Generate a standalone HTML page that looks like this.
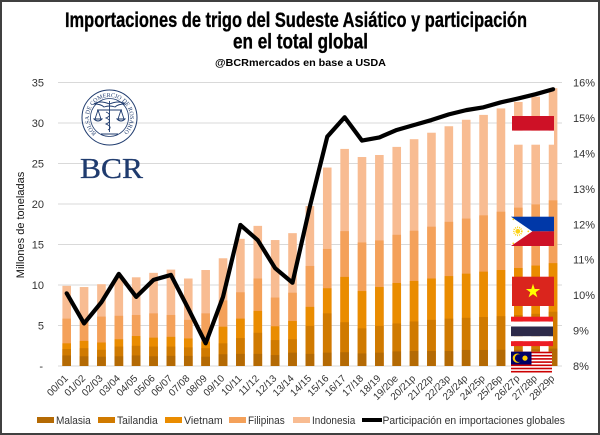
<!DOCTYPE html>
<html>
<head>
<meta charset="utf-8">
<style>
html,body{margin:0;padding:0;background:#fff;}
svg{display:block;}
text{font-family:"Liberation Sans",sans-serif;}
</style>
</head>
<body>
<svg width="600" height="435" viewBox="0 0 600 435" xmlns="http://www.w3.org/2000/svg">
<rect x="0" y="0" width="600" height="435" fill="#fff"/>

<!-- Title -->
<text x="65" y="27" font-size="21" font-weight="bold" fill="#000" stroke="#000" stroke-width="0.35" textLength="462" lengthAdjust="spacingAndGlyphs">Importaciones de trigo del Sudeste Asiático y participación</text>
<text x="233" y="48.5" font-size="21" font-weight="bold" fill="#000" stroke="#000" stroke-width="0.35" textLength="135" lengthAdjust="spacingAndGlyphs">en el total global</text>
<text x="215" y="66" font-size="10" font-weight="bold" fill="#000" textLength="171" lengthAdjust="spacingAndGlyphs">@BCRmercados  en base a USDA</text>

<!-- Gridlines -->
<g stroke="#D9D9D9" stroke-width="1">
<line x1="58" y1="82.5" x2="562" y2="82.5"/>
<line x1="58" y1="123" x2="562" y2="123"/>
<line x1="58" y1="163.5" x2="562" y2="163.5"/>
<line x1="58" y1="204" x2="562" y2="204"/>
<line x1="58" y1="244.5" x2="562" y2="244.5"/>
<line x1="58" y1="285" x2="562" y2="285"/>
<line x1="58" y1="325.5" x2="562" y2="325.5"/>
<line x1="58" y1="366" x2="562" y2="366"/>
</g>

<!-- Left axis labels -->
<g font-size="11" fill="#333" text-anchor="end">
<text x="44" y="86.5">35</text>
<text x="44" y="127">30</text>
<text x="44" y="167.5">25</text>
<text x="44" y="208">20</text>
<text x="44" y="248.5">15</text>
<text x="44" y="289">10</text>
<text x="44" y="329.5">5</text>
<text x="43" y="370">-</text>
</g>
<text transform="translate(24,225) rotate(-90)" text-anchor="middle" font-size="11" fill="#111">Millones de toneladas</text>

<!-- Right axis labels -->
<g font-size="11" fill="#333">
<text x="573" y="86.5">16%</text>
<text x="573" y="121.9">15%</text>
<text x="573" y="157.4">14%</text>
<text x="573" y="192.8">13%</text>
<text x="573" y="228.3">12%</text>
<text x="573" y="263.7">11%</text>
<text x="573" y="299.1">10%</text>
<text x="573" y="334.6">9%</text>
<text x="573" y="370">8%</text>
</g>

<!-- Bars -->
<g transform="translate(0,366) scale(1,-8.1)">
<g fill="#F8BC92">
<rect x="62.4" y="0" width="8.6" height="9.9"/>
<rect x="79.77" y="0" width="8.6" height="9.75"/>
<rect x="97.14" y="0" width="8.6" height="10.1"/>
<rect x="114.51" y="0" width="8.6" height="11.0"/>
<rect x="131.88" y="0" width="8.6" height="10.95"/>
<rect x="149.25" y="0" width="8.6" height="11.5"/>
<rect x="166.62" y="0" width="8.6" height="11.9"/>
<rect x="183.99" y="0" width="8.6" height="10.8"/>
<rect x="201.36" y="0" width="8.6" height="11.85"/>
<rect x="218.73" y="0" width="8.6" height="13.3"/>
<rect x="236.1" y="0" width="8.6" height="15.7"/>
<rect x="253.47" y="0" width="8.6" height="17.3"/>
<rect x="270.84" y="0" width="8.6" height="15.55"/>
<rect x="288.21" y="0" width="8.6" height="16.4"/>
<rect x="305.58" y="0" width="8.6" height="19.75"/>
<rect x="322.95" y="0" width="8.6" height="24.5"/>
<rect x="340.32" y="0" width="8.6" height="26.8"/>
<rect x="357.69" y="0" width="8.6" height="25.8"/>
<rect x="375.06" y="0" width="8.6" height="26.05"/>
<rect x="392.43" y="0" width="8.6" height="27.05"/>
<rect x="409.8" y="0" width="8.6" height="28.0"/>
<rect x="427.17" y="0" width="8.6" height="28.8"/>
<rect x="444.54" y="0" width="8.6" height="29.6"/>
<rect x="461.91" y="0" width="8.6" height="30.4"/>
<rect x="479.28" y="0" width="8.6" height="31.0"/>
<rect x="496.65" y="0" width="8.6" height="31.8"/>
<rect x="514.02" y="0" width="8.6" height="32.6"/>
<rect x="531.39" y="0" width="8.6" height="33.25"/>
<rect x="548.76" y="0" width="8.6" height="34.3"/>
</g>
<g fill="#F4A15A">
<rect x="62.4" y="0" width="8.6" height="5.85"/>
<rect x="79.77" y="0" width="8.6" height="5.6"/>
<rect x="97.14" y="0" width="8.6" height="6.1"/>
<rect x="114.51" y="0" width="8.6" height="6.2"/>
<rect x="131.88" y="0" width="8.6" height="6.3"/>
<rect x="149.25" y="0" width="8.6" height="6.5"/>
<rect x="166.62" y="0" width="8.6" height="6.3"/>
<rect x="183.99" y="0" width="8.6" height="5.7"/>
<rect x="201.36" y="0" width="8.6" height="6.5"/>
<rect x="218.73" y="0" width="8.6" height="8.1"/>
<rect x="236.1" y="0" width="8.6" height="9.1"/>
<rect x="253.47" y="0" width="8.6" height="10.8"/>
<rect x="270.84" y="0" width="8.6" height="8.45"/>
<rect x="288.21" y="0" width="8.6" height="9.05"/>
<rect x="305.58" y="0" width="8.6" height="12.35"/>
<rect x="322.95" y="0" width="8.6" height="14.45"/>
<rect x="340.32" y="0" width="8.6" height="16.65"/>
<rect x="357.69" y="0" width="8.6" height="15.25"/>
<rect x="375.06" y="0" width="8.6" height="15.5"/>
<rect x="392.43" y="0" width="8.6" height="16.2"/>
<rect x="409.8" y="0" width="8.6" height="16.7"/>
<rect x="427.17" y="0" width="8.6" height="17.2"/>
<rect x="444.54" y="0" width="8.6" height="17.8"/>
<rect x="461.91" y="0" width="8.6" height="18.2"/>
<rect x="479.28" y="0" width="8.6" height="18.6"/>
<rect x="496.65" y="0" width="8.6" height="19.05"/>
<rect x="514.02" y="0" width="8.6" height="19.55"/>
<rect x="531.39" y="0" width="8.6" height="19.95"/>
<rect x="548.76" y="0" width="8.6" height="20.45"/>
</g>
<g fill="#EA8C00">
<rect x="62.4" y="0" width="8.6" height="2.8"/>
<rect x="79.77" y="0" width="8.6" height="3.1"/>
<rect x="97.14" y="0" width="8.6" height="2.9"/>
<rect x="114.51" y="0" width="8.6" height="3.3"/>
<rect x="131.88" y="0" width="8.6" height="3.7"/>
<rect x="149.25" y="0" width="8.6" height="3.5"/>
<rect x="166.62" y="0" width="8.6" height="3.6"/>
<rect x="183.99" y="0" width="8.6" height="3.4"/>
<rect x="201.36" y="0" width="8.6" height="3.0"/>
<rect x="218.73" y="0" width="8.6" height="4.85"/>
<rect x="236.1" y="0" width="8.6" height="5.85"/>
<rect x="253.47" y="0" width="8.6" height="6.8"/>
<rect x="270.84" y="0" width="8.6" height="4.9"/>
<rect x="288.21" y="0" width="8.6" height="5.55"/>
<rect x="305.58" y="0" width="8.6" height="7.3"/>
<rect x="322.95" y="0" width="8.6" height="9.6"/>
<rect x="340.32" y="0" width="8.6" height="11.0"/>
<rect x="357.69" y="0" width="8.6" height="9.25"/>
<rect x="375.06" y="0" width="8.6" height="9.75"/>
<rect x="392.43" y="0" width="8.6" height="10.25"/>
<rect x="409.8" y="0" width="8.6" height="10.5"/>
<rect x="427.17" y="0" width="8.6" height="10.8"/>
<rect x="444.54" y="0" width="8.6" height="11.1"/>
<rect x="461.91" y="0" width="8.6" height="11.4"/>
<rect x="479.28" y="0" width="8.6" height="11.65"/>
<rect x="496.65" y="0" width="8.6" height="11.85"/>
<rect x="514.02" y="0" width="8.6" height="12.1"/>
<rect x="531.39" y="0" width="8.6" height="12.4"/>
<rect x="548.76" y="0" width="8.6" height="12.7"/>
</g>
<g fill="#D07A00">
<rect x="62.4" y="0" width="8.6" height="2.1"/>
<rect x="79.77" y="0" width="8.6" height="2.2"/>
<rect x="97.14" y="0" width="8.6" height="2.0"/>
<rect x="114.51" y="0" width="8.6" height="2.4"/>
<rect x="131.88" y="0" width="8.6" height="2.5"/>
<rect x="149.25" y="0" width="8.6" height="2.4"/>
<rect x="166.62" y="0" width="8.6" height="2.4"/>
<rect x="183.99" y="0" width="8.6" height="2.3"/>
<rect x="201.36" y="0" width="8.6" height="2.2"/>
<rect x="218.73" y="0" width="8.6" height="2.8"/>
<rect x="236.1" y="0" width="8.6" height="3.45"/>
<rect x="253.47" y="0" width="8.6" height="4.1"/>
<rect x="270.84" y="0" width="8.6" height="3.2"/>
<rect x="288.21" y="0" width="8.6" height="3.3"/>
<rect x="305.58" y="0" width="8.6" height="4.95"/>
<rect x="322.95" y="0" width="8.6" height="6.5"/>
<rect x="340.32" y="0" width="8.6" height="5.4"/>
<rect x="357.69" y="0" width="8.6" height="4.65"/>
<rect x="375.06" y="0" width="8.6" height="4.95"/>
<rect x="392.43" y="0" width="8.6" height="5.25"/>
<rect x="409.8" y="0" width="8.6" height="5.5"/>
<rect x="427.17" y="0" width="8.6" height="5.7"/>
<rect x="444.54" y="0" width="8.6" height="5.85"/>
<rect x="461.91" y="0" width="8.6" height="5.95"/>
<rect x="479.28" y="0" width="8.6" height="6.05"/>
<rect x="496.65" y="0" width="8.6" height="6.15"/>
<rect x="514.02" y="0" width="8.6" height="6.3"/>
<rect x="531.39" y="0" width="8.6" height="6.45"/>
<rect x="548.76" y="0" width="8.6" height="6.7"/>
</g>
<g fill="#B46A04">
<rect x="62.4" y="0" width="8.6" height="1.3"/>
<rect x="79.77" y="0" width="8.6" height="1.2"/>
<rect x="97.14" y="0" width="8.6" height="1.15"/>
<rect x="114.51" y="0" width="8.6" height="1.2"/>
<rect x="131.88" y="0" width="8.6" height="1.3"/>
<rect x="149.25" y="0" width="8.6" height="1.2"/>
<rect x="166.62" y="0" width="8.6" height="1.25"/>
<rect x="183.99" y="0" width="8.6" height="1.25"/>
<rect x="201.36" y="0" width="8.6" height="1.15"/>
<rect x="218.73" y="0" width="8.6" height="1.45"/>
<rect x="236.1" y="0" width="8.6" height="1.5"/>
<rect x="253.47" y="0" width="8.6" height="1.5"/>
<rect x="270.84" y="0" width="8.6" height="1.35"/>
<rect x="288.21" y="0" width="8.6" height="1.65"/>
<rect x="305.58" y="0" width="8.6" height="1.5"/>
<rect x="322.95" y="0" width="8.6" height="1.65"/>
<rect x="340.32" y="0" width="8.6" height="1.7"/>
<rect x="357.69" y="0" width="8.6" height="1.55"/>
<rect x="375.06" y="0" width="8.6" height="1.65"/>
<rect x="392.43" y="0" width="8.6" height="1.8"/>
<rect x="409.8" y="0" width="8.6" height="1.85"/>
<rect x="427.17" y="0" width="8.6" height="1.85"/>
<rect x="444.54" y="0" width="8.6" height="1.85"/>
<rect x="461.91" y="0" width="8.6" height="1.98"/>
<rect x="479.28" y="0" width="8.6" height="1.98"/>
<rect x="496.65" y="0" width="8.6" height="2.0"/>
<rect x="514.02" y="0" width="8.6" height="2.0"/>
<rect x="531.39" y="0" width="8.6" height="2.05"/>
<rect x="548.76" y="0" width="8.6" height="2.15"/>
</g>
</g>

<!-- Flags -->
<rect x="512" y="116" width="42" height="14.7" fill="#CE1126"/>
<rect x="512" y="130.7" width="42" height="14" fill="#fff"/>
<rect x="511" y="216.7" width="43" height="14.65" fill="#0038A8"/>
<rect x="511" y="231.35" width="43" height="14.65" fill="#CE1126"/>
<polygon points="511,216.7 532.3,231.35 511,246" fill="#fff"/>
<circle cx="517.8" cy="231.35" r="4" fill="none" stroke="#FCD116" stroke-width="1.6" stroke-dasharray="1,1"/>
<circle cx="517.8" cy="231.35" r="2.4" fill="#FCD116"/>
<circle cx="513.3" cy="219.3" r="0.9" fill="#FCD116"/>
<circle cx="513.3" cy="243.4" r="0.9" fill="#FCD116"/>
<circle cx="528.3" cy="231.35" r="0.9" fill="#FCD116"/>
<rect x="512" y="276.7" width="42" height="29.3" fill="#DA251D"/>
<polygon points="533,283.8 534.69,288.98 540.13,288.98 535.73,292.19 537.41,297.37 533,294.17 528.59,297.37 530.27,292.19 525.87,288.98 531.31,288.98" fill="#FFFF00"/>
<rect x="511" y="316.7" width="42" height="4.9" fill="#ED1C24"/>
<rect x="511" y="321.6" width="42" height="4.9" fill="#fff"/>
<rect x="511" y="326.5" width="42" height="9.8" fill="#2D2A4A"/>
<rect x="511" y="336.3" width="42" height="4.9" fill="#fff"/>
<rect x="511" y="341.2" width="42" height="4.9" fill="#ED1C24"/>
<rect x="511" y="351.7" width="41" height="22.4" fill="#fff"/>
<g fill="#CC0001">
<rect x="511" y="351.7" width="41" height="1.6"/>
<rect x="511" y="354.9" width="41" height="1.6"/>
<rect x="511" y="358.1" width="41" height="1.6"/>
<rect x="511" y="361.3" width="41" height="1.6"/>
<rect x="511" y="364.5" width="41" height="1.6"/>
<rect x="511" y="367.7" width="41" height="1.6"/>
<rect x="511" y="370.9" width="41" height="1.6"/>
</g>
<rect x="511" y="351.7" width="20.5" height="12.8" fill="#010066"/>
<circle cx="517.3" cy="358.1" r="4.6" fill="#FFCC00"/>
<circle cx="518.8" cy="358.1" r="3.9" fill="#010066"/>
<circle cx="525" cy="358.1" r="2.6" fill="#FFCC00"/>

<!-- Participation line -->
<polyline fill="none" stroke="#000" stroke-width="4.2" stroke-linejoin="round" stroke-linecap="round"
points="66.7,293.35 84.07,323.47 101.44,302.21 118.81,273.86 136.18,296.89 153.55,279.88 170.92,274.92 188.29,308.59 205.66,343.32 223.03,296.89 240.4,224.95 257.77,240.19 275.14,268.19 292.51,282.72 309.88,206.52 327.25,136.7 344.62,117.21 361.99,140.6 379.36,137.41 396.73,129.97 414.1,125.01 431.47,120.05 448.84,114.38 466.21,110.12 483.58,107.29 500.95,102.33 518.32,98.43 535.69,94.18 553.06,89.21"/>

<!-- X labels -->
<g font-size="10" fill="#333" text-anchor="end">
<text transform="translate(68.7,379) rotate(-45)">00/01</text>
<text transform="translate(86.07,379) rotate(-45)">01/02</text>
<text transform="translate(103.44,379) rotate(-45)">02/03</text>
<text transform="translate(120.81,379) rotate(-45)">03/04</text>
<text transform="translate(138.18,379) rotate(-45)">04/05</text>
<text transform="translate(155.55,379) rotate(-45)">05/06</text>
<text transform="translate(172.92,379) rotate(-45)">06/07</text>
<text transform="translate(190.29,379) rotate(-45)">07/08</text>
<text transform="translate(207.66,379) rotate(-45)">08/09</text>
<text transform="translate(225.03,379) rotate(-45)">09/10</text>
<text transform="translate(242.4,379) rotate(-45)">10/11</text>
<text transform="translate(259.77,379) rotate(-45)">11/12</text>
<text transform="translate(277.14,379) rotate(-45)">12/13</text>
<text transform="translate(294.51,379) rotate(-45)">13/14</text>
<text transform="translate(311.88,379) rotate(-45)">14/15</text>
<text transform="translate(329.25,379) rotate(-45)">15/16</text>
<text transform="translate(346.62,379) rotate(-45)">16/17</text>
<text transform="translate(363.99,379) rotate(-45)">17/18</text>
<text transform="translate(381.36,379) rotate(-45)">18/19</text>
<text transform="translate(398.73,379) rotate(-45)">19/20e</text>
<text transform="translate(416.1,379) rotate(-45)">20/21p</text>
<text transform="translate(433.47,379) rotate(-45)">21/22p</text>
<text transform="translate(450.84,379) rotate(-45)">22/23p</text>
<text transform="translate(468.21,379) rotate(-45)">23/24p</text>
<text transform="translate(485.58,379) rotate(-45)">24/25p</text>
<text transform="translate(502.95,379) rotate(-45)">25/26p</text>
<text transform="translate(520.32,379) rotate(-45)">26/27p</text>
<text transform="translate(537.69,379) rotate(-45)">27/28p</text>
<text transform="translate(555.06,379) rotate(-45)">28/29p</text>
</g>

<!-- Legend -->
<rect x="37" y="417" width="17" height="6" fill="#B46A04"/>
<rect x="98" y="417" width="17" height="6" fill="#D07A00"/>
<rect x="165" y="417" width="17" height="6" fill="#EA8C00"/>
<rect x="229" y="417" width="17" height="6" fill="#F4A15A"/>
<rect x="293" y="417" width="17" height="6" fill="#F8BC92"/>
<line x1="362" y1="420" x2="382" y2="420" stroke="#000" stroke-width="4"/>
<g font-size="11" fill="#333">
<text x="56" y="424" textLength="34.7" lengthAdjust="spacingAndGlyphs">Malasia</text>
<text x="117" y="424" textLength="40.7" lengthAdjust="spacingAndGlyphs">Tailandia</text>
<text x="184" y="424" textLength="38.7" lengthAdjust="spacingAndGlyphs">Vietnam</text>
<text x="248" y="424" textLength="36.7" lengthAdjust="spacingAndGlyphs">Filipinas</text>
<text x="312" y="424" textLength="43.3" lengthAdjust="spacingAndGlyphs">Indonesia</text>
<text x="382.5" y="424" textLength="182.5" lengthAdjust="spacingAndGlyphs">Participación en importaciones globales</text>
</g>

<!-- BCR logo -->
<g fill="none" stroke="#1F3B6E">
<circle cx="109.5" cy="117.5" r="27.5" stroke-width="1"/>
<circle cx="109.5" cy="117.5" r="19" stroke-width="0.8"/>
</g>
<defs>
<path id="sealpath" d="M96.32,133.2 A20.5,20.5 0 1,1 122.68,133.2"/>
</defs>
<text font-size="6" fill="#1F3B6E" style="font-family:'Liberation Serif',serif;"><textPath href="#sealpath" textLength="98" lengthAdjust="spacingAndGlyphs">BOLSA DE COMERCIO DE ROSARIO</textPath></text>
<g stroke="#1F3B6E" fill="none" stroke-width="0.9">
<line x1="109.5" y1="101" x2="109.5" y2="132"/>
<path d="M109.5,104 Q100,100 94,104 Q101,104 104,107 Q107,106 109.5,106"/>
<path d="M109.5,104 Q119,100 125,104 Q118,104 115,107 Q112,106 109.5,106"/>
<line x1="97" y1="110" x2="122" y2="110"/>
<line x1="98" y1="110" x2="95" y2="119"/>
<line x1="98" y1="110" x2="101" y2="119"/>
<line x1="121" y1="110" x2="118" y2="119"/>
<line x1="121" y1="110" x2="124" y2="119"/>
<path d="M94,119 Q98,123 102,119 Z"/>
<path d="M117,119 Q121,123 125,119 Z"/>
<path d="M106,112 Q113,115 106,118 Q113,121 106,124 Q113,127 108,130"/>
<line x1="101" y1="134" x2="118" y2="134"/>
</g>
<text x="80" y="178" font-size="28" fill="#1F3B6E" stroke="#1F3B6E" stroke-width="0.3" style="font-family:'Liberation Serif',serif;" textLength="63" lengthAdjust="spacingAndGlyphs">BCR</text>

<!-- Border -->
<rect x="1" y="1" width="598" height="433" fill="none" stroke="#404040" stroke-width="2"/>
</svg>
</body>
</html>
